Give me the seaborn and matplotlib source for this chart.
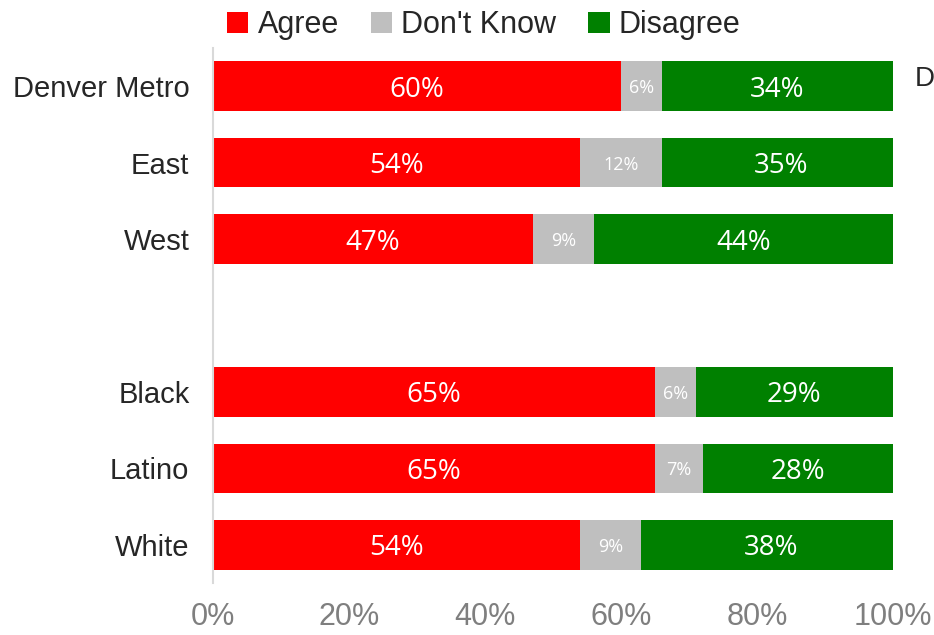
import numpy as np
import pandas as pd
import matplotlib.pyplot as plt
import seaborn as sns
from matplotlib.patches import Patch

sns.set_theme(style="white")
plt.rcParams['font.family'] = ['Liberation Sans', 'DejaVu Sans']

groups = ["Denver Metro", "East", "West", "Black", "Latino", "White"]
positions = [0, 1, 2, 4, 5, 6]
agree = [60, 54, 47, 65, 65, 54]
dont_know = [6, 12, 9, 6, 7, 9]
disagree = [34, 35, 44, 29, 28, 38]

series_names = ["Agree", "Don't Know", "Disagree"]
colors = ["#FF0000", "#BFBFBF", "#008000"]
tick_vals = [0, 20, 40, 60, 80, 100]

df = pd.DataFrame({
    "group": groups,
    "pos": positions,
    "Agree": agree,
    "Don't Know": dont_know,
    "Disagree": disagree,
})
df["cum1"] = df["Agree"] / 100
df["cum2"] = (df["Agree"] + df["Don't Know"]) / 100
df["cum3"] = (df["Agree"] + df["Don't Know"] + df["Disagree"]) / 100

fig = plt.figure(figsize=(9.34, 6.35), dpi=100)
ax = fig.add_axes([213 / 934, 1 - 583 / 635, (893 - 213) / 934, (583 - 48) / 635])

# draw cumulative totals back to front so the layers stack
for col, color in zip(["cum3", "cum2", "cum1"], colors[::-1]):
    sns.barplot(data=df, x=col, y="pos", orient="y", native_scale=True,
                color=color, width=0.65, saturation=1, linewidth=0, ax=ax)

# segment labels
for _, row in df.iterrows():
    left = 0
    for name in series_names:
        val = row[name]
        small = name == "Don't Know"
        ax.text((left + val / 2) / 100, row["pos"], f"{val}%",
                ha="center", va="center_baseline", color="white",
                fontsize=13 if small else 20,
                family=["Open Sans", "DejaVu Sans"])
        left += val

ax.set_xlim(0, 1)
ax.set_ylim(6.5, -0.5)
ax.set_yticks(positions)
ax.set_yticklabels(groups, fontsize=21, color="#262626")
ax.set_xticks([v / 100 for v in tick_vals])
ax.set_xticklabels([f"{v}%" for v in tick_vals], fontsize=22, color="#7F7F7F")
ax.tick_params(axis="x", length=0, pad=14)
ax.tick_params(axis="y", length=0, pad=17)
ax.set_xlabel("")
ax.set_ylabel("")
for side in ["top", "right", "bottom"]:
    ax.spines[side].set_visible(False)
ax.spines["left"].set_color("#D9D9D9")
ax.spines["left"].set_linewidth(1.5)

handles = [Patch(facecolor=c, edgecolor="none", label=n) for n, c in zip(series_names, colors)]
fig.legend(handles=handles, loc="center", bbox_to_anchor=(0.518, 0.96), ncol=3,
           frameon=False, fontsize=22, handlelength=0.7, handleheight=0.7,
           handletextpad=0.3, columnspacing=1.05, labelcolor="#262626")

fig.text(915 / 934, 1 - 79 / 635, "D", ha="left", va="center", fontsize=20, color="#262626")

fig.savefig("out.png", dpi=100)
